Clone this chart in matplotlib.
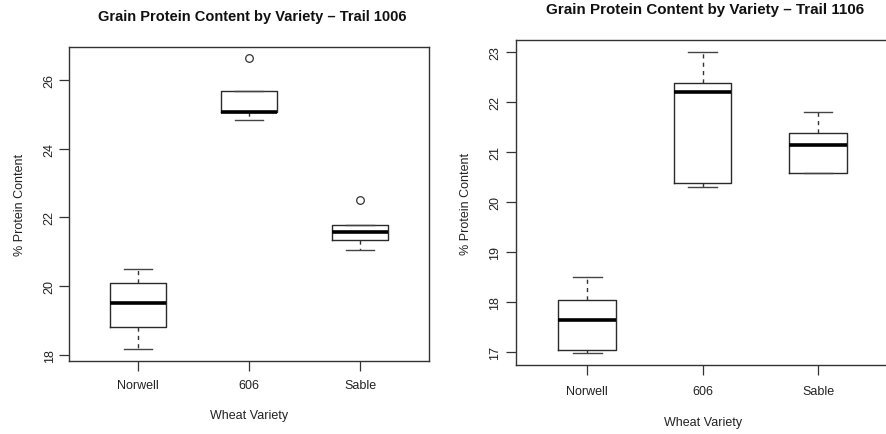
import matplotlib
matplotlib.use("Agg")
import matplotlib.pyplot as plt

plt.rcParams['font.family'] = ['Liberation Sans', 'DejaVu Sans']

categories = ["Norwell", "606", "Sable"]

# Trail 1006 box statistics (whisker low, Q1, median, Q3, whisker high, outliers)
t1006_whislo = [18.18, 24.82, 21.07]
t1006_q1 = [18.81, 25.05, 21.34]
t1006_med = [19.51, 25.07, 21.57]
t1006_q3 = [20.11, 25.68, 21.79]
t1006_whishi = [20.50, 25.68, 21.79]
t1006_fliers = [[], [26.62], [22.52]]

# Trail 1106 box statistics
t1106_whislo = [16.98, 20.30, 20.57]
t1106_q1 = [17.03, 20.37, 20.58]
t1106_med = [17.64, 22.20, 21.14]
t1106_q3 = [18.03, 22.38, 21.37]
t1106_whishi = [18.49, 23.00, 21.80]
t1106_fliers = [[], [], []]

titles = ["Grain Protein Content by Variety \u2013 Trail 1006",
          "Grain Protein Content by Variety \u2013 Trail 1106"]
xlabel = "Wheat Variety"
ylabel = "% Protein Content"
left_yticks = [18, 20, 22, 24, 26]
right_yticks = [17, 18, 19, 20, 21, 22, 23]

W, H = 886, 435
fig = plt.figure(figsize=(W / 100, H / 100), dpi=100)


def px_axes(x0, x1, ytop, ybot):
    return fig.add_axes([x0 / W, (H - ybot) / H, (x1 - x0) / W, (ybot - ytop) / H])


def make_stats(wlo, q1, med, q3, whi, fl):
    return [dict(whislo=a, q1=b, med=c, q3=d, whishi=e, fliers=f, label=lab)
            for a, b, c, d, e, f, lab in zip(wlo, q1, med, q3, whi, fl, categories)]


def draw(ax, stats, yticks, title, title_pos, xlab_pos, ylab_pos, xpad, ypad, tsize):
    ax.bxp(stats, positions=[1, 2, 3], widths=0.5, capwidths=0.25,
           showfliers=True, patch_artist=False,
           boxprops=dict(color='#2a2a2a', linewidth=1.0),
           whiskerprops=dict(color='#333333', linewidth=1.0, linestyle=(0, (3, 3))),
           capprops=dict(color='#444444', linewidth=1.0),
           medianprops=dict(color='black', linewidth=2.6, solid_capstyle='butt'),
           flierprops=dict(marker='o', markersize=5.5, markerfacecolor='none',
                           markeredgecolor='#333333', markeredgewidth=0.9))
    allv = [s['whislo'] for s in stats] + [s['whishi'] for s in stats] + \
        [v for s in stats for v in s['fliers']]
    lo, hi = min(allv), max(allv)
    ext = 0.04 * (hi - lo)
    ax.set_ylim(lo - ext, hi + ext)
    ax.set_xlim(0.38, 3.62)
    ax.set_xticks([1, 2, 3])
    ax.set_xticklabels(categories, fontsize=9, color='#222222')
    ax.set_yticks(yticks)
    ax.set_yticklabels([str(t) for t in yticks], fontsize=9, rotation=90,
                       va='center', color='#222222')
    ax.tick_params(axis='x', length=7, width=0.9, color='#333333', pad=xpad)
    ax.tick_params(axis='y', length=7, width=0.9, color='#333333', pad=ypad)
    for sp in ax.spines.values():
        sp.set_color('#333333')
        sp.set_linewidth(1.0)
    ax.set_xlabel(xlabel, fontsize=9, color='#222222')
    ax.xaxis.set_label_coords(*xlab_pos)
    ax.xaxis.label.set_va('center')
    ax.set_ylabel(ylabel, fontsize=9, color='#222222')
    ax.yaxis.set_label_coords(*ylab_pos)
    ax.yaxis.label.set_va('center')
    ax.text(title_pos[0], title_pos[1], title, transform=ax.transAxes,
            ha='center', va='center', fontsize=tsize, fontweight='bold', color='#111111')


ax1 = px_axes(69, 429, 47.7, 361.7)
draw(ax1, make_stats(t1006_whislo, t1006_q1, t1006_med, t1006_q3, t1006_whishi, t1006_fliers),
     left_yticks, titles[0], (0.508, 1.097), (0.5, -0.173), (-0.136, 0.498), 6.5, 2.5, 10.5)

ax2 = px_axes(515.7, 889.5, 40.7, 366)
draw(ax2, make_stats(t1106_whislo, t1106_q1, t1106_med, t1106_q3, t1106_whishi, t1106_fliers),
     right_yticks, titles[1], (0.506, 1.095), (0.501, -0.174), (-0.134, 0.497), 7.5, 3.5, 10.9)

fig.savefig("out.png", dpi=100, facecolor='white')
